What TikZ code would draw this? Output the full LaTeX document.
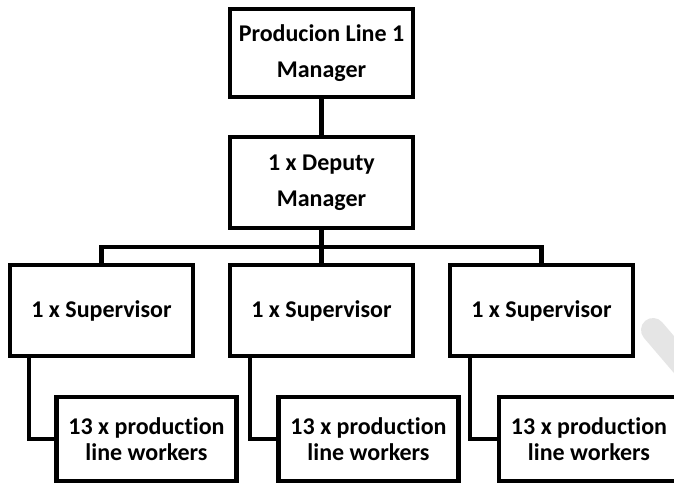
\documentclass[tikz,border=0pt]{standalone}
\usepackage{fontspec}
\setmainfont[Ligatures=NoCommon]{Carlito}
\begin{document}
\begin{tikzpicture}[x=1pt,y=-1pt,
  box/.style={draw=black, line width=4.2pt, fill=white, inner sep=0pt,
    align=center, font=\bfseries\fontsize{24}{36}\selectfont},
  supbox/.style={box, minimum width=183pt, minimum height=91pt},
  wrkbox/.style={box, minimum width=180pt, minimum height=84pt,
    font=\bfseries\fontsize{24}{25.5}\selectfont},
  link/.style={draw=black, line width=4.2pt, line join=miter}]
\useasboundingbox (0,0) rectangle (674,486);
\begin{scope}
\clip (0,0) rectangle (674,486);
\fill[white] (0,0) rectangle (674,486);
% faint grey mark on the right side
\draw[line width=24pt, line cap=round, color=black!10] (653,330) -- (700,385);

% management chain
\node[box, minimum width=183pt, minimum height=88pt] (mgr) at (321.5,53) {Producion Line 1\\Manager};
\node[box, minimum width=183pt, minimum height=91pt] (dep) at (321.5,182.5) {1 x Deputy\\Manager};

% supervisors
\node[supbox] (supL) at (101.5,310.5) {1 x Supervisor};
\node[supbox] (supM) at (321.5,310.5) {1 x Supervisor};
\node[supbox] (supR) at (541.5,310.5) {1 x Supervisor};

% worker groups
\node[wrkbox] (wrkL) at (146.5,439) {13 x production\\line workers};
\node[wrkbox] (wrkM) at (368.5,439) {13 x production\\line workers};
\node[wrkbox] (wrkR) at (589,439) {13 x production\\line workers};

\coordinate (bus) at (321.5,247);

% connectors
\path[link] (mgr.south) -- (dep.north);
\path[link] (dep.south) -- (supM.north);
\path[link] (supL.north) |- (bus) -| (supR.north);
\path[link] ([xshift=21pt]supL.south west) |- (wrkL.west);
\path[link] ([xshift=22pt]supM.south west) |- (wrkM.west);
\path[link] ([xshift=22pt]supR.south west) |- (wrkR.west);
\end{scope}
\end{tikzpicture}
\end{document}
